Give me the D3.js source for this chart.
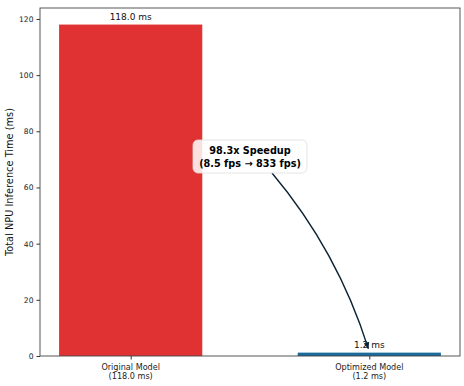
<!DOCTYPE html>
<html>
<head>
<meta charset="utf-8">
<script src="https://cdn.jsdelivr.net/npm/d3@7"></script>
<style>
  body { margin: 0; background: #fff; }
  text { font-family: "DejaVu Sans", sans-serif; }
</style>
</head>
<body>
<div class="root"></div>
<script>
const categories = ['Original Model', 'Optimized Model'];
const values = [118.0, 1.2];
const barLabels = ['118.0 ms', '1.2 ms'];
const yTicks = [0, 20, 40, 60, 80, 100, 120];
const colors = ['#e03232', '#1a6b9c'];

const width = 464;
const height = 386;
const margin = { top: 8, right: 4, bottom: 30, left: 40 };

const svg = d3.select('.root')
  .append('svg')
  .attr('width', width)
  .attr('height', height);

const x = d3.scaleLinear()
  .domain([-0.38, 1.38])
  .range([margin.left, width - margin.right]);

const y = d3.scaleLinear()
  .domain([0, 118 * 1.05])
  .range([height - margin.bottom, margin.top]);

const barW = 0.6;

// bars
svg.selectAll('.bar')
  .data(values)
  .enter()
  .append('rect')
  .attr('class', 'bar')
  .attr('x', (d, i) => x(i - barW / 2))
  .attr('width', x(barW) - x(0))
  .attr('y', d => y(d))
  .attr('height', d => y(0) - y(d))
  .attr('fill', (d, i) => colors[i]);

// value labels
svg.selectAll('.vlabel')
  .data(values)
  .enter()
  .append('text')
  .attr('x', (d, i) => x(i))
  .attr('y', d => y(d) - 4.5)
  .attr('text-anchor', 'middle')
  .attr('font-size', 9)
  .attr('fill', '#111')
  .text((d, i) => barLabels[i]);

// axes
const yAxis = svg.append('g')
  .attr('transform', `translate(${margin.left},0)`)
  .call(d3.axisLeft(y).tickValues(yTicks).tickSize(3.5).tickPadding(3));
yAxis.select('.domain').remove();
yAxis.selectAll('text').attr('font-size', 7.6).attr('fill', '#222').attr('font-family', 'DejaVu Sans');
yAxis.selectAll('line').attr('stroke', '#333');

const xAxis = svg.append('g')
  .attr('transform', `translate(0,${y(0)})`)
  .call(d3.axisBottom(x).tickValues([0, 1]).tickSize(3.5).tickFormat(''));
xAxis.select('.domain').remove();
xAxis.selectAll('line').attr('stroke', '#333');

const xl = svg.append('g').selectAll('text')
  .data(categories)
  .enter()
  .append('text')
  .attr('x', (d, i) => x(i))
  .attr('y', y(0) + 14)
  .attr('text-anchor', 'middle')
  .attr('font-size', 8.1)
  .attr('fill', '#222');
xl.append('tspan').attr('x', (d, i) => x(i)).text(d => d);
xl.append('tspan').attr('x', (d, i) => x(i)).attr('dy', 9.3).text((d, i) => `(${barLabels[i]})`);

// frame
svg.append('rect')
  .attr('x', margin.left)
  .attr('y', margin.top)
  .attr('width', width - margin.left - margin.right)
  .attr('height', y(0) - margin.top)
  .attr('fill', 'none')
  .attr('stroke', '#444')
  .attr('stroke-width', 0.9);

// y label
svg.append('text')
  .attr('transform', `translate(13,${(margin.top + y(0)) / 2}) rotate(-90)`)
  .attr('text-anchor', 'middle')
  .attr('font-size', 9.8)
  .attr('fill', '#111')
  .text('Total NPU Inference Time (ms)');

// annotation arrow
svg.append('defs').append('marker')
  .attr('id', 'ah')
  .attr('viewBox', '0 0 10 10')
  .attr('refX', 9).attr('refY', 5)
  .attr('markerWidth', 7).attr('markerHeight', 7)
  .attr('markerUnits', 'userSpaceOnUse')
  .attr('orient', 'auto')
  .append('path')
  .attr('d', 'M0,1 L10,5 L0,9 z')
  .attr('fill', '#0a2233');

const p0 = [272, 173];
const p2 = [x(1) - 1, y(values[1]) - 4];
const mid = [(p0[0] + p2[0]) / 2, (p0[1] + p2[1]) / 2];
const rad = 0.1;
const c = [mid[0] + rad * (p2[1] - p0[1]), mid[1] - rad * (p2[0] - p0[0])];
const path = d3.path();
path.moveTo(p0[0], p0[1]);
path.quadraticCurveTo(c[0], c[1], p2[0], p2[1]);
svg.append('path')
  .attr('d', path.toString())
  .attr('fill', 'none')
  .attr('stroke', '#0a2233')
  .attr('stroke-width', 1.4)
  .attr('marker-end', 'url(#ah)');

// annotation box
const bx = 250, by = 156;
svg.append('rect')
  .attr('x', bx - 57).attr('y', by - 16)
  .attr('width', 114).attr('height', 33)
  .attr('rx', 5)
  .attr('fill', 'rgba(255,255,255,0.85)')
  .attr('stroke', '#ddd')
  .attr('stroke-width', 0.8);
const at = svg.append('text')
  .attr('text-anchor', 'middle')
  .attr('font-size', 9.7)
  .attr('font-weight', 'bold')
  .attr('fill', '#000');
at.append('tspan').attr('x', bx).attr('y', by - 2).text('98.3x Speedup');
at.append('tspan').attr('x', bx).attr('y', by + 10.5).text('(8.5 fps \u2192 833 fps)');
</script>
</body>
</html>
